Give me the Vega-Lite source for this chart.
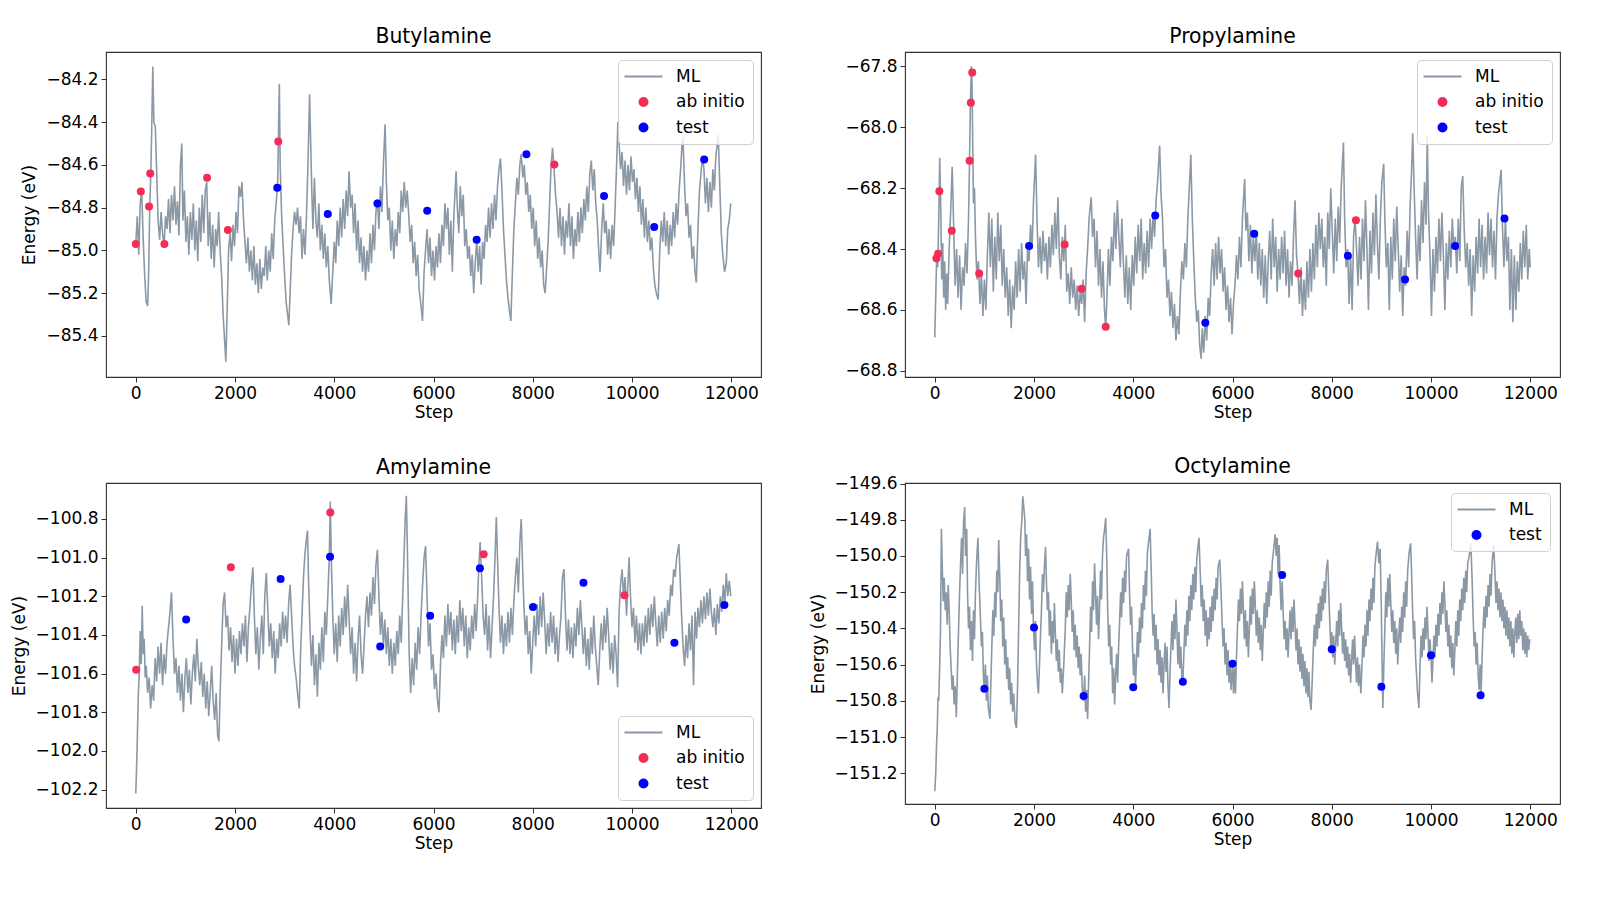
{
"$schema":"https://vega.github.io/schema/vega-lite/v6.json",
"background":"white",
"padding":{"left":9,"top":26,"right":5,"bottom":5},
"config":{
"view":{"stroke":"#333","strokeWidth":1.1},
"axis":{"grid":false,"domain":false,"tickColor":"#333","tickSize":5,"tickWidth":1,"labelFont":"DejaVu Sans","labelFontSize":17,"labelColor":"#000","labelPadding":3,"labelFlush":false,"labelOverlap":false,"titleFont":"DejaVu Sans","titleFontSize":17,"titleFontWeight":"normal","titleColor":"#000"},
"axisY":{"titlePadding":7},
"axisX":{"titlePadding":3},
"title":{"font":"DejaVu Sans","fontSize":20.4,"fontWeight":"normal","color":"#000","offset":5,"anchor":"middle","frame":"group"},
"legend":{"title":null,"offset":8,"fillColor":"rgba(255,255,255,0.8)","strokeColor":"#d0d0d0","strokeWidth":1,"cornerRadius":4,"padding":8,"labelFont":"DejaVu Sans","labelFontSize":17,"labelColor":"#000","labelOffset":24,"symbolSize":400,"symbolOffset":9,"rowPadding":7.5}
},
"datasets":{
"b":[{"s":0,"e":-84.97},{"s":30,"e":-84.84},{"s":60,"e":-85.02},{"s":90,"e":-84.78},{"s":120,"e":-84.72},{"s":150,"e":-84.95},{"s":180,"e":-85.12},{"s":210,"e":-85.24},{"s":240,"e":-85.26},{"s":260,"e":-85.1},{"s":280,"e":-84.82},{"s":300,"e":-84.66},{"s":320,"e":-84.45},{"s":343,"e":-84.14},{"s":365,"e":-84.4},{"s":393,"e":-84.42},{"s":420,"e":-84.62},{"s":450,"e":-84.86},{"s":480,"e":-84.95},{"s":510,"e":-84.82},{"s":540,"e":-84.92},{"s":570,"e":-84.98},{"s":600,"e":-84.84},{"s":630,"e":-84.9},{"s":660,"e":-84.76},{"s":690,"e":-84.92},{"s":720,"e":-84.74},{"s":750,"e":-84.86},{"s":780,"e":-84.7},{"s":810,"e":-84.88},{"s":840,"e":-84.77},{"s":870,"e":-84.93},{"s":900,"e":-84.6},{"s":928,"e":-84.5},{"s":950,"e":-84.86},{"s":980,"e":-84.72},{"s":1010,"e":-84.96},{"s":1040,"e":-84.84},{"s":1070,"e":-85.02},{"s":1100,"e":-84.82},{"s":1130,"e":-84.95},{"s":1160,"e":-84.78},{"s":1190,"e":-85.0},{"s":1220,"e":-84.86},{"s":1250,"e":-85.05},{"s":1280,"e":-84.8},{"s":1310,"e":-84.96},{"s":1340,"e":-84.74},{"s":1370,"e":-84.92},{"s":1400,"e":-84.72},{"s":1430,"e":-84.68},{"s":1460,"e":-84.98},{"s":1490,"e":-84.82},{"s":1520,"e":-85.04},{"s":1550,"e":-84.88},{"s":1580,"e":-85.08},{"s":1610,"e":-84.9},{"s":1640,"e":-84.98},{"s":1670,"e":-84.82},{"s":1700,"e":-85.0},{"s":1730,"e":-85.12},{"s":1760,"e":-85.3},{"s":1790,"e":-85.42},{"s":1815,"e":-85.52},{"s":1840,"e":-85.3},{"s":1870,"e":-85.0},{"s":1900,"e":-84.92},{"s":1930,"e":-85.05},{"s":1960,"e":-84.88},{"s":1990,"e":-84.98},{"s":2020,"e":-84.82},{"s":2050,"e":-84.92},{"s":2080,"e":-84.7},{"s":2110,"e":-84.75},{"s":2140,"e":-84.68},{"s":2170,"e":-84.85},{"s":2200,"e":-84.96},{"s":2230,"e":-85.06},{"s":2260,"e":-84.94},{"s":2290,"e":-85.1},{"s":2320,"e":-85.0},{"s":2350,"e":-85.14},{"s":2380,"e":-84.98},{"s":2410,"e":-85.16},{"s":2440,"e":-85.06},{"s":2470,"e":-85.2},{"s":2500,"e":-85.04},{"s":2530,"e":-85.18},{"s":2560,"e":-85.08},{"s":2590,"e":-85.12},{"s":2620,"e":-84.98},{"s":2650,"e":-85.14},{"s":2680,"e":-85.0},{"s":2710,"e":-85.1},{"s":2740,"e":-84.92},{"s":2770,"e":-85.04},{"s":2800,"e":-84.86},{"s":2830,"e":-84.78},{"s":2860,"e":-84.68},{"s":2880,"e":-84.4},{"s":2893,"e":-84.22},{"s":2910,"e":-84.6},{"s":2940,"e":-84.84},{"s":2970,"e":-84.98},{"s":3000,"e":-85.12},{"s":3030,"e":-85.24},{"s":3060,"e":-85.3},{"s":3085,"e":-85.35},{"s":3110,"e":-85.2},{"s":3140,"e":-85.02},{"s":3170,"e":-84.9},{"s":3200,"e":-84.82},{"s":3230,"e":-84.88},{"s":3260,"e":-84.8},{"s":3290,"e":-84.92},{"s":3320,"e":-84.84},{"s":3350,"e":-85.04},{"s":3380,"e":-84.9},{"s":3410,"e":-85.02},{"s":3440,"e":-84.84},{"s":3470,"e":-84.6},{"s":3490,"e":-84.4},{"s":3503,"e":-84.27},{"s":3520,"e":-84.45},{"s":3545,"e":-84.7},{"s":3570,"e":-84.9},{"s":3600,"e":-84.66},{"s":3630,"e":-84.86},{"s":3660,"e":-84.94},{"s":3690,"e":-84.78},{"s":3720,"e":-85.0},{"s":3750,"e":-84.88},{"s":3780,"e":-85.04},{"s":3810,"e":-84.92},{"s":3840,"e":-85.08},{"s":3870,"e":-84.98},{"s":3900,"e":-85.14},{"s":3938,"e":-85.25},{"s":3970,"e":-85.1},{"s":4000,"e":-84.96},{"s":4030,"e":-85.06},{"s":4060,"e":-84.86},{"s":4090,"e":-84.98},{"s":4120,"e":-84.8},{"s":4150,"e":-84.94},{"s":4180,"e":-84.76},{"s":4210,"e":-84.9},{"s":4240,"e":-84.72},{"s":4270,"e":-84.84},{"s":4298,"e":-84.63},{"s":4330,"e":-84.8},{"s":4360,"e":-84.74},{"s":4390,"e":-84.92},{"s":4420,"e":-84.78},{"s":4450,"e":-85.0},{"s":4480,"e":-84.86},{"s":4510,"e":-85.06},{"s":4540,"e":-84.94},{"s":4570,"e":-85.1},{"s":4600,"e":-84.98},{"s":4630,"e":-85.14},{"s":4660,"e":-85.0},{"s":4690,"e":-85.1},{"s":4720,"e":-84.92},{"s":4750,"e":-85.06},{"s":4780,"e":-84.88},{"s":4810,"e":-85.0},{"s":4840,"e":-84.82},{"s":4870,"e":-84.76},{"s":4900,"e":-84.9},{"s":4930,"e":-84.7},{"s":4960,"e":-84.82},{"s":4990,"e":-84.6},{"s":5025,"e":-84.41},{"s":5050,"e":-84.68},{"s":5080,"e":-84.86},{"s":5110,"e":-84.8},{"s":5140,"e":-85.0},{"s":5170,"e":-84.86},{"s":5200,"e":-85.04},{"s":5230,"e":-84.9},{"s":5260,"e":-84.98},{"s":5290,"e":-84.82},{"s":5320,"e":-84.92},{"s":5350,"e":-84.72},{"s":5380,"e":-84.82},{"s":5410,"e":-84.68},{"s":5440,"e":-84.8},{"s":5470,"e":-84.72},{"s":5500,"e":-84.83},{"s":5530,"e":-84.96},{"s":5560,"e":-84.88},{"s":5590,"e":-85.06},{"s":5620,"e":-84.96},{"s":5650,"e":-85.12},{"s":5680,"e":-85.02},{"s":5710,"e":-85.18},{"s":5740,"e":-85.24},{"s":5778,"e":-85.33},{"s":5810,"e":-85.1},{"s":5840,"e":-85.0},{"s":5870,"e":-84.9},{"s":5900,"e":-85.06},{"s":5930,"e":-84.94},{"s":5960,"e":-85.12},{"s":5990,"e":-85.0},{"s":6020,"e":-85.14},{"s":6050,"e":-84.98},{"s":6080,"e":-85.08},{"s":6110,"e":-84.92},{"s":6140,"e":-85.06},{"s":6170,"e":-84.88},{"s":6200,"e":-84.98},{"s":6230,"e":-84.78},{"s":6260,"e":-84.9},{"s":6290,"e":-84.8},{"s":6320,"e":-85.02},{"s":6350,"e":-84.86},{"s":6380,"e":-85.1},{"s":6410,"e":-84.84},{"s":6440,"e":-84.7},{"s":6455,"e":-84.63},{"s":6480,"e":-84.8},{"s":6510,"e":-84.92},{"s":6540,"e":-84.7},{"s":6570,"e":-84.84},{"s":6600,"e":-84.74},{"s":6630,"e":-84.98},{"s":6660,"e":-84.9},{"s":6690,"e":-85.04},{"s":6720,"e":-84.98},{"s":6750,"e":-85.12},{"s":6780,"e":-85.02},{"s":6810,"e":-85.2},{"s":6840,"e":-85.06},{"s":6873,"e":-84.95},{"s":6900,"e":-85.1},{"s":6930,"e":-84.98},{"s":6960,"e":-85.16},{"s":6990,"e":-84.96},{"s":7020,"e":-85.04},{"s":7050,"e":-84.88},{"s":7080,"e":-84.96},{"s":7110,"e":-84.8},{"s":7140,"e":-84.94},{"s":7170,"e":-84.78},{"s":7200,"e":-84.9},{"s":7230,"e":-84.74},{"s":7260,"e":-84.86},{"s":7290,"e":-84.7},{"s":7320,"e":-84.62},{"s":7350,"e":-84.57},{"s":7380,"e":-84.72},{"s":7410,"e":-84.9},{"s":7440,"e":-85.02},{"s":7470,"e":-85.14},{"s":7500,"e":-85.22},{"s":7530,"e":-85.28},{"s":7559,"e":-85.33},{"s":7590,"e":-85.1},{"s":7620,"e":-84.9},{"s":7650,"e":-84.78},{"s":7680,"e":-84.66},{"s":7710,"e":-84.74},{"s":7740,"e":-84.6},{"s":7768,"e":-84.55},{"s":7800,"e":-84.66},{"s":7830,"e":-84.6},{"s":7860,"e":-84.74},{"s":7890,"e":-84.68},{"s":7920,"e":-84.82},{"s":7950,"e":-84.74},{"s":7980,"e":-84.9},{"s":8010,"e":-84.8},{"s":8040,"e":-84.98},{"s":8070,"e":-84.86},{"s":8100,"e":-85.04},{"s":8130,"e":-84.94},{"s":8160,"e":-85.08},{"s":8190,"e":-85.0},{"s":8220,"e":-85.16},{"s":8250,"e":-85.2},{"s":8280,"e":-85.08},{"s":8310,"e":-84.96},{"s":8340,"e":-84.78},{"s":8370,"e":-84.6},{"s":8400,"e":-84.52},{"s":8430,"e":-84.62},{"s":8460,"e":-84.74},{"s":8490,"e":-84.82},{"s":8520,"e":-84.94},{"s":8550,"e":-84.8},{"s":8580,"e":-84.98},{"s":8610,"e":-84.84},{"s":8640,"e":-85.02},{"s":8670,"e":-84.86},{"s":8700,"e":-84.94},{"s":8730,"e":-84.78},{"s":8760,"e":-84.98},{"s":8790,"e":-84.84},{"s":8820,"e":-85.04},{"s":8850,"e":-84.9},{"s":8880,"e":-84.98},{"s":8910,"e":-84.82},{"s":8940,"e":-84.96},{"s":8970,"e":-84.8},{"s":9000,"e":-84.92},{"s":9030,"e":-84.76},{"s":9060,"e":-84.86},{"s":9090,"e":-84.7},{"s":9120,"e":-84.82},{"s":9150,"e":-84.64},{"s":9180,"e":-84.58},{"s":9210,"e":-84.72},{"s":9240,"e":-84.62},{"s":9270,"e":-84.78},{"s":9300,"e":-84.86},{"s":9330,"e":-85.0},{"s":9356,"e":-85.1},{"s":9390,"e":-84.9},{"s":9420,"e":-84.78},{"s":9450,"e":-84.92},{"s":9480,"e":-84.86},{"s":9510,"e":-85.02},{"s":9540,"e":-84.9},{"s":9570,"e":-85.04},{"s":9600,"e":-84.88},{"s":9630,"e":-84.98},{"s":9660,"e":-84.8},{"s":9690,"e":-84.6},{"s":9716,"e":-84.4},{"s":9740,"e":-84.5},{"s":9770,"e":-84.62},{"s":9800,"e":-84.54},{"s":9830,"e":-84.7},{"s":9860,"e":-84.58},{"s":9890,"e":-84.74},{"s":9920,"e":-84.6},{"s":9950,"e":-84.72},{"s":9980,"e":-84.56},{"s":10010,"e":-84.68},{"s":10040,"e":-84.62},{"s":10070,"e":-84.76},{"s":10100,"e":-84.66},{"s":10130,"e":-84.82},{"s":10160,"e":-84.7},{"s":10190,"e":-84.88},{"s":10220,"e":-84.76},{"s":10250,"e":-84.94},{"s":10280,"e":-84.8},{"s":10310,"e":-84.96},{"s":10340,"e":-84.86},{"s":10370,"e":-85.0},{"s":10400,"e":-84.94},{"s":10430,"e":-85.08},{"s":10460,"e":-85.16},{"s":10490,"e":-85.2},{"s":10527,"e":-85.23},{"s":10560,"e":-85.0},{"s":10590,"e":-84.86},{"s":10620,"e":-84.96},{"s":10650,"e":-84.82},{"s":10680,"e":-84.98},{"s":10710,"e":-84.86},{"s":10740,"e":-85.02},{"s":10770,"e":-84.88},{"s":10800,"e":-84.98},{"s":10830,"e":-84.82},{"s":10860,"e":-84.94},{"s":10890,"e":-84.78},{"s":10920,"e":-84.88},{"s":10950,"e":-84.72},{"s":10980,"e":-84.62},{"s":11010,"e":-84.5},{"s":11028,"e":-84.47},{"s":11060,"e":-84.7},{"s":11090,"e":-84.84},{"s":11120,"e":-84.78},{"s":11150,"e":-84.94},{"s":11180,"e":-84.88},{"s":11210,"e":-85.04},{"s":11240,"e":-84.98},{"s":11270,"e":-85.1},{"s":11296,"e":-85.15},{"s":11330,"e":-84.9},{"s":11360,"e":-84.72},{"s":11390,"e":-84.64},{"s":11420,"e":-84.56},{"s":11450,"e":-84.62},{"s":11480,"e":-84.78},{"s":11510,"e":-84.66},{"s":11540,"e":-84.82},{"s":11570,"e":-84.68},{"s":11600,"e":-84.8},{"s":11630,"e":-84.62},{"s":11660,"e":-84.72},{"s":11690,"e":-84.56},{"s":11720,"e":-84.5},{"s":11739,"e":-84.46},{"s":11770,"e":-84.7},{"s":11800,"e":-84.92},{"s":11830,"e":-85.02},{"s":11865,"e":-85.1},{"s":11900,"e":-85.06},{"s":11930,"e":-84.9},{"s":11960,"e":-84.86},{"s":11990,"e":-84.78}],
"p":[{"s":0,"e":-68.69},{"s":20,"e":-68.55},{"s":40,"e":-68.42},{"s":60,"e":-68.46},{"s":80,"e":-68.3},{"s":100,"e":-68.1},{"s":120,"e":-68.26},{"s":140,"e":-68.5},{"s":160,"e":-68.38},{"s":180,"e":-68.56},{"s":200,"e":-68.44},{"s":220,"e":-68.6},{"s":240,"e":-68.48},{"s":260,"e":-68.58},{"s":290,"e":-68.4},{"s":320,"e":-68.28},{"s":351,"e":-68.13},{"s":380,"e":-68.32},{"s":410,"e":-68.52},{"s":440,"e":-68.4},{"s":470,"e":-68.56},{"s":500,"e":-68.42},{"s":530,"e":-68.6},{"s":560,"e":-68.46},{"s":590,"e":-68.52},{"s":620,"e":-68.38},{"s":650,"e":-68.48},{"s":680,"e":-68.3},{"s":700,"e":-68.12},{"s":715,"e":-67.95},{"s":736,"e":-67.8},{"s":750,"e":-67.85},{"s":765,"e":-68.05},{"s":780,"e":-68.25},{"s":800,"e":-68.2},{"s":820,"e":-68.36},{"s":850,"e":-68.5},{"s":880,"e":-68.44},{"s":910,"e":-68.58},{"s":940,"e":-68.48},{"s":970,"e":-68.62},{"s":1000,"e":-68.5},{"s":1030,"e":-68.6},{"s":1060,"e":-68.42},{"s":1090,"e":-68.28},{"s":1120,"e":-68.46},{"s":1150,"e":-68.3},{"s":1180,"e":-68.54},{"s":1210,"e":-68.36},{"s":1240,"e":-68.5},{"s":1270,"e":-68.28},{"s":1300,"e":-68.44},{"s":1330,"e":-68.32},{"s":1360,"e":-68.52},{"s":1390,"e":-68.4},{"s":1420,"e":-68.56},{"s":1450,"e":-68.46},{"s":1480,"e":-68.62},{"s":1510,"e":-68.5},{"s":1540,"e":-68.66},{"s":1570,"e":-68.52},{"s":1600,"e":-68.6},{"s":1630,"e":-68.44},{"s":1660,"e":-68.56},{"s":1690,"e":-68.4},{"s":1720,"e":-68.54},{"s":1750,"e":-68.38},{"s":1780,"e":-68.5},{"s":1810,"e":-68.44},{"s":1840,"e":-68.58},{"s":1870,"e":-68.4},{"s":1900,"e":-68.44},{"s":1930,"e":-68.32},{"s":1960,"e":-68.4},{"s":1990,"e":-68.24},{"s":2032,"e":-68.09},{"s":2060,"e":-68.3},{"s":2090,"e":-68.46},{"s":2120,"e":-68.36},{"s":2150,"e":-68.48},{"s":2180,"e":-68.34},{"s":2210,"e":-68.44},{"s":2240,"e":-68.38},{"s":2270,"e":-68.5},{"s":2300,"e":-68.36},{"s":2330,"e":-68.46},{"s":2360,"e":-68.32},{"s":2390,"e":-68.42},{"s":2420,"e":-68.28},{"s":2450,"e":-68.4},{"s":2483,"e":-68.23},{"s":2510,"e":-68.42},{"s":2540,"e":-68.5},{"s":2570,"e":-68.36},{"s":2600,"e":-68.44},{"s":2630,"e":-68.32},{"s":2660,"e":-68.54},{"s":2690,"e":-68.48},{"s":2720,"e":-68.58},{"s":2750,"e":-68.46},{"s":2780,"e":-68.56},{"s":2810,"e":-68.5},{"s":2840,"e":-68.6},{"s":2870,"e":-68.52},{"s":2900,"e":-68.62},{"s":2930,"e":-68.54},{"s":2960,"e":-68.58},{"s":2990,"e":-68.5},{"s":3020,"e":-68.64},{"s":3050,"e":-68.48},{"s":3080,"e":-68.4},{"s":3110,"e":-68.3},{"s":3152,"e":-68.23},{"s":3180,"e":-68.36},{"s":3210,"e":-68.3},{"s":3240,"e":-68.46},{"s":3270,"e":-68.34},{"s":3300,"e":-68.52},{"s":3330,"e":-68.4},{"s":3360,"e":-68.56},{"s":3390,"e":-68.44},{"s":3420,"e":-68.6},{"s":3445,"e":-68.66},{"s":3470,"e":-68.56},{"s":3500,"e":-68.4},{"s":3530,"e":-68.52},{"s":3560,"e":-68.36},{"s":3590,"e":-68.44},{"s":3620,"e":-68.28},{"s":3650,"e":-68.4},{"s":3680,"e":-68.24},{"s":3710,"e":-68.36},{"s":3740,"e":-68.46},{"s":3770,"e":-68.3},{"s":3800,"e":-68.44},{"s":3830,"e":-68.56},{"s":3860,"e":-68.42},{"s":3890,"e":-68.58},{"s":3920,"e":-68.46},{"s":3950,"e":-68.6},{"s":3980,"e":-68.42},{"s":4010,"e":-68.52},{"s":4040,"e":-68.36},{"s":4070,"e":-68.48},{"s":4100,"e":-68.32},{"s":4130,"e":-68.44},{"s":4160,"e":-68.3},{"s":4190,"e":-68.5},{"s":4220,"e":-68.38},{"s":4250,"e":-68.48},{"s":4280,"e":-68.34},{"s":4310,"e":-68.46},{"s":4340,"e":-68.3},{"s":4370,"e":-68.4},{"s":4400,"e":-68.28},{"s":4430,"e":-68.36},{"s":4460,"e":-68.24},{"s":4490,"e":-68.18},{"s":4532,"e":-68.06},{"s":4560,"e":-68.22},{"s":4590,"e":-68.3},{"s":4620,"e":-68.46},{"s":4650,"e":-68.4},{"s":4680,"e":-68.56},{"s":4710,"e":-68.5},{"s":4740,"e":-68.62},{"s":4770,"e":-68.54},{"s":4800,"e":-68.66},{"s":4830,"e":-68.58},{"s":4860,"e":-68.7},{"s":4890,"e":-68.62},{"s":4920,"e":-68.68},{"s":4950,"e":-68.54},{"s":4980,"e":-68.44},{"s":5010,"e":-68.5},{"s":5040,"e":-68.38},{"s":5070,"e":-68.46},{"s":5100,"e":-68.3},{"s":5130,"e":-68.2},{"s":5160,"e":-68.09},{"s":5190,"e":-68.3},{"s":5220,"e":-68.44},{"s":5250,"e":-68.56},{"s":5280,"e":-68.64},{"s":5310,"e":-68.6},{"s":5340,"e":-68.72},{"s":5368,"e":-68.76},{"s":5390,"e":-68.66},{"s":5420,"e":-68.74},{"s":5450,"e":-68.62},{"s":5480,"e":-68.7},{"s":5510,"e":-68.56},{"s":5540,"e":-68.62},{"s":5570,"e":-68.48},{"s":5600,"e":-68.4},{"s":5630,"e":-68.52},{"s":5660,"e":-68.38},{"s":5690,"e":-68.5},{"s":5720,"e":-68.36},{"s":5750,"e":-68.48},{"s":5780,"e":-68.4},{"s":5810,"e":-68.54},{"s":5840,"e":-68.46},{"s":5870,"e":-68.6},{"s":5900,"e":-68.52},{"s":5930,"e":-68.64},{"s":5960,"e":-68.56},{"s":5990,"e":-68.68},{"s":6020,"e":-68.58},{"s":6050,"e":-68.52},{"s":6080,"e":-68.42},{"s":6110,"e":-68.5},{"s":6140,"e":-68.36},{"s":6170,"e":-68.46},{"s":6200,"e":-68.3},{"s":6245,"e":-68.17},{"s":6270,"e":-68.34},{"s":6300,"e":-68.28},{"s":6330,"e":-68.44},{"s":6360,"e":-68.32},{"s":6390,"e":-68.48},{"s":6420,"e":-68.36},{"s":6450,"e":-68.44},{"s":6480,"e":-68.34},{"s":6510,"e":-68.5},{"s":6540,"e":-68.38},{"s":6570,"e":-68.52},{"s":6600,"e":-68.4},{"s":6630,"e":-68.56},{"s":6660,"e":-68.42},{"s":6690,"e":-68.58},{"s":6720,"e":-68.44},{"s":6750,"e":-68.34},{"s":6780,"e":-68.5},{"s":6810,"e":-68.3},{"s":6840,"e":-68.46},{"s":6870,"e":-68.36},{"s":6900,"e":-68.54},{"s":6930,"e":-68.4},{"s":6960,"e":-68.5},{"s":6990,"e":-68.36},{"s":7020,"e":-68.48},{"s":7050,"e":-68.34},{"s":7080,"e":-68.52},{"s":7110,"e":-68.4},{"s":7140,"e":-68.56},{"s":7170,"e":-68.44},{"s":7200,"e":-68.52},{"s":7230,"e":-68.36},{"s":7260,"e":-68.24},{"s":7290,"e":-68.42},{"s":7320,"e":-68.48},{"s":7350,"e":-68.58},{"s":7380,"e":-68.46},{"s":7410,"e":-68.62},{"s":7440,"e":-68.5},{"s":7470,"e":-68.6},{"s":7500,"e":-68.44},{"s":7530,"e":-68.56},{"s":7560,"e":-68.4},{"s":7590,"e":-68.54},{"s":7620,"e":-68.38},{"s":7650,"e":-68.5},{"s":7680,"e":-68.32},{"s":7710,"e":-68.46},{"s":7740,"e":-68.28},{"s":7770,"e":-68.4},{"s":7800,"e":-68.3},{"s":7830,"e":-68.46},{"s":7860,"e":-68.36},{"s":7890,"e":-68.52},{"s":7920,"e":-68.28},{"s":7950,"e":-68.4},{"s":7980,"e":-68.2},{"s":8010,"e":-68.34},{"s":8040,"e":-68.48},{"s":8070,"e":-68.3},{"s":8100,"e":-68.44},{"s":8130,"e":-68.26},{"s":8160,"e":-68.38},{"s":8190,"e":-68.2},{"s":8236,"e":-68.05},{"s":8260,"e":-68.3},{"s":8290,"e":-68.46},{"s":8320,"e":-68.4},{"s":8350,"e":-68.58},{"s":8380,"e":-68.42},{"s":8410,"e":-68.6},{"s":8440,"e":-68.36},{"s":8470,"e":-68.3},{"s":8500,"e":-68.4},{"s":8530,"e":-68.52},{"s":8560,"e":-68.36},{"s":8590,"e":-68.5},{"s":8620,"e":-68.3},{"s":8650,"e":-68.44},{"s":8680,"e":-68.24},{"s":8710,"e":-68.4},{"s":8740,"e":-68.6},{"s":8770,"e":-68.34},{"s":8800,"e":-68.48},{"s":8830,"e":-68.28},{"s":8860,"e":-68.42},{"s":8890,"e":-68.22},{"s":8920,"e":-68.38},{"s":8950,"e":-68.5},{"s":8980,"e":-68.3},{"s":9010,"e":-68.18},{"s":9047,"e":-68.12},{"s":9070,"e":-68.3},{"s":9100,"e":-68.46},{"s":9130,"e":-68.38},{"s":9160,"e":-68.6},{"s":9190,"e":-68.36},{"s":9220,"e":-68.5},{"s":9250,"e":-68.3},{"s":9280,"e":-68.44},{"s":9310,"e":-68.26},{"s":9340,"e":-68.4},{"s":9370,"e":-68.54},{"s":9400,"e":-68.42},{"s":9430,"e":-68.62},{"s":9460,"e":-68.46},{"s":9490,"e":-68.52},{"s":9520,"e":-68.34},{"s":9550,"e":-68.46},{"s":9580,"e":-68.26},{"s":9610,"e":-68.14},{"s":9632,"e":-68.02},{"s":9660,"e":-68.2},{"s":9690,"e":-68.36},{"s":9720,"e":-68.5},{"s":9750,"e":-68.32},{"s":9780,"e":-68.44},{"s":9810,"e":-68.24},{"s":9840,"e":-68.38},{"s":9870,"e":-68.18},{"s":9900,"e":-68.32},{"s":9925,"e":-68.03},{"s":9950,"e":-68.28},{"s":9980,"e":-68.42},{"s":10010,"e":-68.62},{"s":10040,"e":-68.4},{"s":10070,"e":-68.54},{"s":10100,"e":-68.36},{"s":10130,"e":-68.48},{"s":10160,"e":-68.3},{"s":10190,"e":-68.44},{"s":10220,"e":-68.28},{"s":10250,"e":-68.42},{"s":10280,"e":-68.6},{"s":10310,"e":-68.38},{"s":10340,"e":-68.5},{"s":10370,"e":-68.34},{"s":10400,"e":-68.46},{"s":10430,"e":-68.3},{"s":10460,"e":-68.4},{"s":10490,"e":-68.36},{"s":10520,"e":-68.48},{"s":10550,"e":-68.3},{"s":10580,"e":-68.44},{"s":10610,"e":-68.2},{"s":10640,"e":-68.16},{"s":10670,"e":-68.34},{"s":10700,"e":-68.46},{"s":10730,"e":-68.38},{"s":10760,"e":-68.52},{"s":10790,"e":-68.4},{"s":10820,"e":-68.62},{"s":10850,"e":-68.42},{"s":10880,"e":-68.54},{"s":10910,"e":-68.36},{"s":10940,"e":-68.48},{"s":10970,"e":-68.3},{"s":11000,"e":-68.46},{"s":11030,"e":-68.32},{"s":11060,"e":-68.5},{"s":11090,"e":-68.36},{"s":11120,"e":-68.48},{"s":11150,"e":-68.28},{"s":11180,"e":-68.42},{"s":11210,"e":-68.3},{"s":11240,"e":-68.46},{"s":11270,"e":-68.34},{"s":11300,"e":-68.5},{"s":11330,"e":-68.3},{"s":11360,"e":-68.22},{"s":11413,"e":-68.14},{"s":11440,"e":-68.32},{"s":11470,"e":-68.46},{"s":11500,"e":-68.3},{"s":11530,"e":-68.44},{"s":11560,"e":-68.36},{"s":11590,"e":-68.6},{"s":11620,"e":-68.4},{"s":11650,"e":-68.64},{"s":11680,"e":-68.42},{"s":11710,"e":-68.6},{"s":11740,"e":-68.44},{"s":11770,"e":-68.54},{"s":11800,"e":-68.38},{"s":11830,"e":-68.5},{"s":11860,"e":-68.34},{"s":11890,"e":-68.46},{"s":11920,"e":-68.32},{"s":11950,"e":-68.5},{"s":11980,"e":-68.4},{"s":12000,"e":-68.46}],
"a":[{"s":0,"e":-102.22},{"s":15,"e":-102.1},{"s":30,"e":-101.95},{"s":50,"e":-101.72},{"s":70,"e":-101.6},{"s":90,"e":-101.38},{"s":110,"e":-101.55},{"s":130,"e":-101.25},{"s":150,"e":-101.5},{"s":170,"e":-101.42},{"s":190,"e":-101.62},{"s":210,"e":-101.56},{"s":240,"e":-101.7},{"s":270,"e":-101.62},{"s":300,"e":-101.78},{"s":330,"e":-101.66},{"s":360,"e":-101.74},{"s":390,"e":-101.52},{"s":420,"e":-101.64},{"s":450,"e":-101.46},{"s":480,"e":-101.6},{"s":510,"e":-101.44},{"s":540,"e":-101.66},{"s":570,"e":-101.5},{"s":600,"e":-101.6},{"s":630,"e":-101.44},{"s":660,"e":-101.36},{"s":690,"e":-101.28},{"s":720,"e":-101.18},{"s":750,"e":-101.42},{"s":780,"e":-101.6},{"s":810,"e":-101.52},{"s":840,"e":-101.7},{"s":870,"e":-101.56},{"s":900,"e":-101.74},{"s":930,"e":-101.6},{"s":960,"e":-101.8},{"s":990,"e":-101.62},{"s":1020,"e":-101.52},{"s":1050,"e":-101.7},{"s":1080,"e":-101.58},{"s":1110,"e":-101.76},{"s":1140,"e":-101.6},{"s":1170,"e":-101.5},{"s":1200,"e":-101.64},{"s":1230,"e":-101.42},{"s":1260,"e":-101.56},{"s":1290,"e":-101.66},{"s":1320,"e":-101.54},{"s":1350,"e":-101.72},{"s":1380,"e":-101.6},{"s":1410,"e":-101.78},{"s":1440,"e":-101.64},{"s":1470,"e":-101.82},{"s":1500,"e":-101.7},{"s":1530,"e":-101.56},{"s":1560,"e":-101.74},{"s":1590,"e":-101.84},{"s":1620,"e":-101.7},{"s":1650,"e":-101.92},{"s":1675,"e":-101.95},{"s":1700,"e":-101.7},{"s":1730,"e":-101.46},{"s":1760,"e":-101.24},{"s":1790,"e":-101.18},{"s":1820,"e":-101.36},{"s":1850,"e":-101.3},{"s":1880,"e":-101.48},{"s":1910,"e":-101.36},{"s":1940,"e":-101.54},{"s":1970,"e":-101.4},{"s":2000,"e":-101.6},{"s":2030,"e":-101.42},{"s":2060,"e":-101.56},{"s":2090,"e":-101.38},{"s":2120,"e":-101.5},{"s":2150,"e":-101.34},{"s":2180,"e":-101.46},{"s":2210,"e":-101.3},{"s":2240,"e":-101.54},{"s":2270,"e":-101.36},{"s":2300,"e":-101.26},{"s":2330,"e":-101.14},{"s":2360,"e":-101.05},{"s":2390,"e":-101.3},{"s":2420,"e":-101.5},{"s":2450,"e":-101.36},{"s":2480,"e":-101.58},{"s":2510,"e":-101.42},{"s":2540,"e":-101.3},{"s":2570,"e":-101.5},{"s":2600,"e":-101.2},{"s":2630,"e":-101.08},{"s":2660,"e":-101.26},{"s":2690,"e":-101.46},{"s":2720,"e":-101.34},{"s":2750,"e":-101.52},{"s":2780,"e":-101.38},{"s":2810,"e":-101.6},{"s":2840,"e":-101.42},{"s":2870,"e":-101.52},{"s":2900,"e":-101.34},{"s":2930,"e":-101.46},{"s":2960,"e":-101.28},{"s":2990,"e":-101.42},{"s":3020,"e":-101.3},{"s":3050,"e":-101.44},{"s":3080,"e":-101.24},{"s":3110,"e":-101.14},{"s":3140,"e":-101.3},{"s":3170,"e":-101.46},{"s":3200,"e":-101.56},{"s":3230,"e":-101.62},{"s":3260,"e":-101.7},{"s":3294,"e":-101.78},{"s":3320,"e":-101.5},{"s":3350,"e":-101.3},{"s":3380,"e":-101.1},{"s":3410,"e":-100.98},{"s":3440,"e":-100.9},{"s":3461,"e":-100.86},{"s":3480,"e":-101.1},{"s":3510,"e":-101.36},{"s":3540,"e":-101.56},{"s":3570,"e":-101.4},{"s":3600,"e":-101.66},{"s":3630,"e":-101.5},{"s":3660,"e":-101.72},{"s":3690,"e":-101.44},{"s":3720,"e":-101.58},{"s":3750,"e":-101.36},{"s":3780,"e":-101.54},{"s":3810,"e":-101.28},{"s":3840,"e":-101.4},{"s":3870,"e":-101.2},{"s":3900,"e":-101.0},{"s":3920,"e":-100.71},{"s":3940,"e":-101.0},{"s":3970,"e":-101.3},{"s":4000,"e":-101.5},{"s":4030,"e":-101.34},{"s":4060,"e":-101.54},{"s":4090,"e":-101.3},{"s":4120,"e":-101.46},{"s":4150,"e":-101.26},{"s":4180,"e":-101.4},{"s":4210,"e":-101.2},{"s":4240,"e":-101.36},{"s":4270,"e":-101.14},{"s":4300,"e":-101.32},{"s":4330,"e":-101.5},{"s":4360,"e":-101.36},{"s":4390,"e":-101.6},{"s":4420,"e":-101.44},{"s":4450,"e":-101.64},{"s":4480,"e":-101.42},{"s":4510,"e":-101.3},{"s":4540,"e":-101.5},{"s":4570,"e":-101.6},{"s":4600,"e":-101.46},{"s":4630,"e":-101.3},{"s":4660,"e":-101.2},{"s":4690,"e":-101.36},{"s":4720,"e":-101.18},{"s":4750,"e":-101.3},{"s":4780,"e":-101.1},{"s":4810,"e":-101.24},{"s":4840,"e":-101.04},{"s":4870,"e":-100.96},{"s":4900,"e":-101.2},{"s":4930,"e":-101.4},{"s":4960,"e":-101.28},{"s":4990,"e":-101.46},{"s":5020,"e":-101.32},{"s":5050,"e":-101.5},{"s":5080,"e":-101.36},{"s":5110,"e":-101.56},{"s":5140,"e":-101.42},{"s":5170,"e":-101.6},{"s":5200,"e":-101.44},{"s":5230,"e":-101.56},{"s":5260,"e":-101.38},{"s":5290,"e":-101.5},{"s":5320,"e":-101.3},{"s":5350,"e":-101.44},{"s":5380,"e":-101.2},{"s":5410,"e":-100.96},{"s":5430,"e":-100.8},{"s":5452,"e":-100.68},{"s":5470,"e":-100.9},{"s":5490,"e":-101.2},{"s":5510,"e":-101.5},{"s":5540,"e":-101.7},{"s":5570,"e":-101.52},{"s":5600,"e":-101.66},{"s":5630,"e":-101.44},{"s":5660,"e":-101.58},{"s":5690,"e":-101.36},{"s":5720,"e":-101.5},{"s":5750,"e":-101.3},{"s":5780,"e":-101.14},{"s":5810,"e":-101.0},{"s":5840,"e":-100.94},{"s":5870,"e":-101.2},{"s":5900,"e":-101.46},{"s":5930,"e":-101.34},{"s":5960,"e":-101.58},{"s":5990,"e":-101.5},{"s":6020,"e":-101.68},{"s":6050,"e":-101.6},{"s":6080,"e":-101.74},{"s":6110,"e":-101.8},{"s":6140,"e":-101.56},{"s":6170,"e":-101.4},{"s":6200,"e":-101.52},{"s":6230,"e":-101.3},{"s":6260,"e":-101.46},{"s":6290,"e":-101.24},{"s":6320,"e":-101.4},{"s":6350,"e":-101.28},{"s":6380,"e":-101.48},{"s":6410,"e":-101.32},{"s":6440,"e":-101.5},{"s":6470,"e":-101.3},{"s":6500,"e":-101.44},{"s":6530,"e":-101.22},{"s":6560,"e":-101.38},{"s":6590,"e":-101.26},{"s":6620,"e":-101.46},{"s":6650,"e":-101.3},{"s":6680,"e":-101.52},{"s":6710,"e":-101.36},{"s":6740,"e":-101.48},{"s":6770,"e":-101.3},{"s":6800,"e":-101.42},{"s":6830,"e":-101.24},{"s":6860,"e":-101.38},{"s":6890,"e":-101.2},{"s":6915,"e":-101.04},{"s":6940,"e":-100.92},{"s":6970,"e":-101.1},{"s":7000,"e":-101.3},{"s":7030,"e":-101.4},{"s":7060,"e":-101.24},{"s":7090,"e":-101.48},{"s":7120,"e":-101.3},{"s":7150,"e":-101.52},{"s":7180,"e":-101.36},{"s":7210,"e":-101.2},{"s":7240,"e":-101.0},{"s":7266,"e":-100.79},{"s":7290,"e":-101.0},{"s":7320,"e":-101.26},{"s":7350,"e":-101.44},{"s":7380,"e":-101.3},{"s":7410,"e":-101.5},{"s":7440,"e":-101.34},{"s":7470,"e":-101.46},{"s":7500,"e":-101.28},{"s":7530,"e":-101.44},{"s":7560,"e":-101.26},{"s":7590,"e":-101.4},{"s":7620,"e":-101.22},{"s":7650,"e":-101.1},{"s":7680,"e":-101.0},{"s":7710,"e":-101.18},{"s":7740,"e":-100.92},{"s":7768,"e":-100.8},{"s":7790,"e":-101.0},{"s":7820,"e":-101.24},{"s":7850,"e":-101.4},{"s":7880,"e":-101.3},{"s":7910,"e":-101.5},{"s":7940,"e":-101.38},{"s":7970,"e":-101.6},{"s":8000,"e":-101.44},{"s":8030,"e":-101.3},{"s":8060,"e":-101.46},{"s":8090,"e":-101.24},{"s":8120,"e":-101.4},{"s":8150,"e":-101.2},{"s":8180,"e":-101.36},{"s":8210,"e":-101.18},{"s":8240,"e":-101.32},{"s":8270,"e":-101.5},{"s":8300,"e":-101.34},{"s":8330,"e":-101.46},{"s":8360,"e":-101.28},{"s":8390,"e":-101.44},{"s":8420,"e":-101.3},{"s":8450,"e":-101.5},{"s":8480,"e":-101.36},{"s":8510,"e":-101.54},{"s":8540,"e":-101.4},{"s":8570,"e":-101.3},{"s":8600,"e":-101.1},{"s":8630,"e":-101.06},{"s":8660,"e":-101.3},{"s":8690,"e":-101.48},{"s":8720,"e":-101.32},{"s":8750,"e":-101.5},{"s":8780,"e":-101.36},{"s":8810,"e":-101.52},{"s":8840,"e":-101.34},{"s":8870,"e":-101.46},{"s":8900,"e":-101.26},{"s":8930,"e":-101.4},{"s":8960,"e":-101.22},{"s":8990,"e":-101.36},{"s":9020,"e":-101.5},{"s":9050,"e":-101.36},{"s":9080,"e":-101.56},{"s":9110,"e":-101.42},{"s":9140,"e":-101.58},{"s":9170,"e":-101.36},{"s":9200,"e":-101.5},{"s":9230,"e":-101.3},{"s":9260,"e":-101.46},{"s":9290,"e":-101.56},{"s":9320,"e":-101.66},{"s":9350,"e":-101.48},{"s":9380,"e":-101.34},{"s":9410,"e":-101.48},{"s":9440,"e":-101.3},{"s":9470,"e":-101.44},{"s":9500,"e":-101.26},{"s":9530,"e":-101.4},{"s":9560,"e":-101.58},{"s":9590,"e":-101.44},{"s":9620,"e":-101.6},{"s":9650,"e":-101.4},{"s":9680,"e":-101.5},{"s":9710,"e":-101.67},{"s":9740,"e":-101.28},{"s":9770,"e":-101.14},{"s":9800,"e":-101.06},{"s":9830,"e":-101.2},{"s":9860,"e":-101.1},{"s":9890,"e":-101.3},{"s":9920,"e":-101.12},{"s":9942,"e":-101.0},{"s":9970,"e":-101.2},{"s":10000,"e":-101.36},{"s":10030,"e":-101.26},{"s":10060,"e":-101.44},{"s":10090,"e":-101.3},{"s":10120,"e":-101.48},{"s":10150,"e":-101.34},{"s":10180,"e":-101.5},{"s":10210,"e":-101.34},{"s":10240,"e":-101.46},{"s":10270,"e":-101.3},{"s":10300,"e":-101.44},{"s":10330,"e":-101.26},{"s":10360,"e":-101.4},{"s":10390,"e":-101.24},{"s":10420,"e":-101.36},{"s":10450,"e":-101.2},{"s":10480,"e":-101.34},{"s":10510,"e":-101.46},{"s":10540,"e":-101.3},{"s":10570,"e":-101.44},{"s":10600,"e":-101.28},{"s":10630,"e":-101.42},{"s":10660,"e":-101.26},{"s":10690,"e":-101.38},{"s":10720,"e":-101.22},{"s":10750,"e":-101.3},{"s":10780,"e":-101.14},{"s":10810,"e":-101.2},{"s":10840,"e":-101.06},{"s":10870,"e":-101.1},{"s":10900,"e":-101.0},{"s":10945,"e":-100.93},{"s":10970,"e":-101.1},{"s":11000,"e":-101.3},{"s":11030,"e":-101.46},{"s":11060,"e":-101.56},{"s":11090,"e":-101.4},{"s":11120,"e":-101.52},{"s":11150,"e":-101.34},{"s":11180,"e":-101.48},{"s":11210,"e":-101.3},{"s":11240,"e":-101.66},{"s":11270,"e":-101.28},{"s":11300,"e":-101.42},{"s":11330,"e":-101.26},{"s":11360,"e":-101.36},{"s":11390,"e":-101.22},{"s":11420,"e":-101.34},{"s":11450,"e":-101.2},{"s":11480,"e":-101.32},{"s":11510,"e":-101.18},{"s":11540,"e":-101.3},{"s":11570,"e":-101.16},{"s":11600,"e":-101.28},{"s":11630,"e":-101.36},{"s":11660,"e":-101.26},{"s":11690,"e":-101.4},{"s":11720,"e":-101.24},{"s":11750,"e":-101.34},{"s":11780,"e":-101.2},{"s":11810,"e":-101.28},{"s":11840,"e":-101.14},{"s":11870,"e":-101.24},{"s":11900,"e":-101.08},{"s":11930,"e":-101.2},{"s":11960,"e":-101.12},{"s":11990,"e":-101.2}],
"o":[{"s":0,"e":-151.3},{"s":20,"e":-151.2},{"s":35,"e":-151.05},{"s":50,"e":-150.95},{"s":65,"e":-150.78},{"s":80,"e":-150.8},{"s":100,"e":-150.6},{"s":115,"e":-150.42},{"s":134,"e":-149.85},{"s":150,"e":-150.05},{"s":170,"e":-150.25},{"s":190,"e":-150.12},{"s":210,"e":-150.3},{"s":230,"e":-150.2},{"s":250,"e":-150.38},{"s":270,"e":-150.16},{"s":290,"e":-150.3},{"s":310,"e":-150.5},{"s":330,"e":-150.62},{"s":350,"e":-150.74},{"s":370,"e":-150.66},{"s":390,"e":-150.82},{"s":410,"e":-150.72},{"s":435,"e":-150.89},{"s":460,"e":-150.6},{"s":480,"e":-150.4},{"s":500,"e":-150.2},{"s":520,"e":-150.04},{"s":540,"e":-149.9},{"s":560,"e":-150.1},{"s":580,"e":-149.82},{"s":602,"e":-149.73},{"s":620,"e":-150.0},{"s":644,"e":-149.85},{"s":660,"e":-150.2},{"s":680,"e":-150.4},{"s":700,"e":-150.28},{"s":720,"e":-150.52},{"s":740,"e":-150.36},{"s":760,"e":-150.58},{"s":780,"e":-150.3},{"s":800,"e":-150.46},{"s":820,"e":-150.2},{"s":845,"e":-150.02},{"s":870,"e":-149.9},{"s":895,"e":-150.16},{"s":920,"e":-150.34},{"s":940,"e":-150.5},{"s":960,"e":-150.42},{"s":980,"e":-150.66},{"s":1000,"e":-150.74},{"s":1020,"e":-150.6},{"s":1040,"e":-150.8},{"s":1060,"e":-150.66},{"s":1080,"e":-150.84},{"s":1112,"e":-150.9},{"s":1130,"e":-150.7},{"s":1150,"e":-150.5},{"s":1170,"e":-150.3},{"s":1190,"e":-150.44},{"s":1210,"e":-150.2},{"s":1230,"e":-150.34},{"s":1250,"e":-150.08},{"s":1270,"e":-150.2},{"s":1288,"e":-149.91},{"s":1310,"e":-150.12},{"s":1330,"e":-150.36},{"s":1350,"e":-150.24},{"s":1370,"e":-150.5},{"s":1390,"e":-150.34},{"s":1410,"e":-150.6},{"s":1430,"e":-150.46},{"s":1450,"e":-150.68},{"s":1470,"e":-150.56},{"s":1490,"e":-150.74},{"s":1510,"e":-150.62},{"s":1530,"e":-150.82},{"s":1550,"e":-150.7},{"s":1570,"e":-150.86},{"s":1590,"e":-150.76},{"s":1620,"e":-150.92},{"s":1647,"e":-150.95},{"s":1670,"e":-150.7},{"s":1690,"e":-150.4},{"s":1710,"e":-150.1},{"s":1730,"e":-149.9},{"s":1755,"e":-149.8},{"s":1773,"e":-149.67},{"s":1790,"e":-149.72},{"s":1815,"e":-149.8},{"s":1830,"e":-150.0},{"s":1850,"e":-149.88},{"s":1870,"e":-150.14},{"s":1890,"e":-149.96},{"s":1910,"e":-150.24},{"s":1930,"e":-150.06},{"s":1950,"e":-150.32},{"s":1970,"e":-150.14},{"s":1990,"e":-150.4},{"s":2010,"e":-150.52},{"s":2030,"e":-150.36},{"s":2050,"e":-150.6},{"s":2070,"e":-150.7},{"s":2090,"e":-150.76},{"s":2110,"e":-150.6},{"s":2130,"e":-150.44},{"s":2150,"e":-150.3},{"s":2170,"e":-150.1},{"s":2190,"e":-150.2},{"s":2210,"e":-150.06},{"s":2232,"e":-149.95},{"s":2250,"e":-150.14},{"s":2270,"e":-150.3},{"s":2290,"e":-150.2},{"s":2310,"e":-150.44},{"s":2330,"e":-150.3},{"s":2350,"e":-150.54},{"s":2370,"e":-150.36},{"s":2390,"e":-150.48},{"s":2410,"e":-150.26},{"s":2430,"e":-150.42},{"s":2450,"e":-150.58},{"s":2470,"e":-150.46},{"s":2490,"e":-150.64},{"s":2510,"e":-150.52},{"s":2530,"e":-150.7},{"s":2550,"e":-150.62},{"s":2570,"e":-150.76},{"s":2600,"e":-150.6},{"s":2630,"e":-150.4},{"s":2650,"e":-150.2},{"s":2670,"e":-150.34},{"s":2690,"e":-150.16},{"s":2710,"e":-150.3},{"s":2730,"e":-150.1},{"s":2750,"e":-150.24},{"s":2770,"e":-150.42},{"s":2790,"e":-150.3},{"s":2810,"e":-150.52},{"s":2830,"e":-150.38},{"s":2850,"e":-150.56},{"s":2870,"e":-150.44},{"s":2890,"e":-150.62},{"s":2910,"e":-150.5},{"s":2930,"e":-150.66},{"s":2950,"e":-150.54},{"s":2970,"e":-150.72},{"s":3000,"e":-150.8},{"s":3020,"e":-150.66},{"s":3040,"e":-150.86},{"s":3060,"e":-150.74},{"s":3080,"e":-150.9},{"s":3100,"e":-150.7},{"s":3120,"e":-150.5},{"s":3140,"e":-150.28},{"s":3160,"e":-150.42},{"s":3180,"e":-150.14},{"s":3200,"e":-150.3},{"s":3220,"e":-150.04},{"s":3240,"e":-150.2},{"s":3260,"e":-150.38},{"s":3280,"e":-150.22},{"s":3300,"e":-150.46},{"s":3320,"e":-150.3},{"s":3340,"e":-150.08},{"s":3360,"e":-150.24},{"s":3380,"e":-150.0},{"s":3400,"e":-149.9},{"s":3420,"e":-149.86},{"s":3445,"e":-149.79},{"s":3465,"e":-150.0},{"s":3485,"e":-150.3},{"s":3505,"e":-150.5},{"s":3525,"e":-150.38},{"s":3545,"e":-150.6},{"s":3565,"e":-150.5},{"s":3585,"e":-150.76},{"s":3605,"e":-150.62},{"s":3625,"e":-150.82},{"s":3645,"e":-150.66},{"s":3665,"e":-150.54},{"s":3685,"e":-150.7},{"s":3705,"e":-150.5},{"s":3725,"e":-150.36},{"s":3745,"e":-150.2},{"s":3765,"e":-150.34},{"s":3785,"e":-150.12},{"s":3805,"e":-150.26},{"s":3825,"e":-150.08},{"s":3845,"e":-150.2},{"s":3865,"e":-150.0},{"s":3905,"e":-149.96},{"s":3925,"e":-150.2},{"s":3945,"e":-150.38},{"s":3965,"e":-150.28},{"s":3985,"e":-150.5},{"s":4005,"e":-150.66},{"s":4025,"e":-150.54},{"s":4045,"e":-150.72},{"s":4065,"e":-150.58},{"s":4085,"e":-150.42},{"s":4105,"e":-150.56},{"s":4125,"e":-150.34},{"s":4145,"e":-150.48},{"s":4165,"e":-150.26},{"s":4185,"e":-150.4},{"s":4205,"e":-150.16},{"s":4225,"e":-150.3},{"s":4245,"e":-150.08},{"s":4265,"e":-150.22},{"s":4285,"e":-149.98},{"s":4310,"e":-149.92},{"s":4340,"e":-149.85},{"s":4360,"e":-150.06},{"s":4380,"e":-150.3},{"s":4400,"e":-150.44},{"s":4420,"e":-150.32},{"s":4440,"e":-150.52},{"s":4460,"e":-150.38},{"s":4480,"e":-150.6},{"s":4500,"e":-150.46},{"s":4520,"e":-150.66},{"s":4540,"e":-150.52},{"s":4560,"e":-150.7},{"s":4580,"e":-150.56},{"s":4600,"e":-150.76},{"s":4620,"e":-150.6},{"s":4640,"e":-150.48},{"s":4660,"e":-150.64},{"s":4680,"e":-150.5},{"s":4700,"e":-150.72},{"s":4720,"e":-150.84},{"s":4740,"e":-150.66},{"s":4760,"e":-150.5},{"s":4780,"e":-150.36},{"s":4800,"e":-150.52},{"s":4820,"e":-150.32},{"s":4840,"e":-150.46},{"s":4860,"e":-150.24},{"s":4880,"e":-150.4},{"s":4900,"e":-150.6},{"s":4920,"e":-150.42},{"s":4940,"e":-150.62},{"s":4960,"e":-150.5},{"s":4980,"e":-150.68},{"s":5000,"e":-150.7},{"s":5020,"e":-150.54},{"s":5040,"e":-150.38},{"s":5060,"e":-150.5},{"s":5080,"e":-150.3},{"s":5100,"e":-150.44},{"s":5120,"e":-150.22},{"s":5140,"e":-150.36},{"s":5160,"e":-150.16},{"s":5180,"e":-150.3},{"s":5200,"e":-150.1},{"s":5220,"e":-150.24},{"s":5240,"e":-150.06},{"s":5260,"e":-150.2},{"s":5280,"e":-150.02},{"s":5300,"e":-149.96},{"s":5326,"e":-149.9},{"s":5350,"e":-150.1},{"s":5370,"e":-150.28},{"s":5390,"e":-150.16},{"s":5410,"e":-150.36},{"s":5430,"e":-150.24},{"s":5450,"e":-150.44},{"s":5470,"e":-150.3},{"s":5490,"e":-150.5},{"s":5510,"e":-150.34},{"s":5530,"e":-150.46},{"s":5550,"e":-150.28},{"s":5570,"e":-150.42},{"s":5590,"e":-150.22},{"s":5610,"e":-150.36},{"s":5630,"e":-150.18},{"s":5650,"e":-150.3},{"s":5670,"e":-150.12},{"s":5690,"e":-150.24},{"s":5710,"e":-150.06},{"s":5744,"e":-150.02},{"s":5770,"e":-150.2},{"s":5790,"e":-150.36},{"s":5810,"e":-150.5},{"s":5830,"e":-150.4},{"s":5850,"e":-150.6},{"s":5870,"e":-150.48},{"s":5890,"e":-150.66},{"s":5910,"e":-150.52},{"s":5930,"e":-150.7},{"s":5950,"e":-150.58},{"s":5970,"e":-150.74},{"s":6000,"e":-150.6},{"s":6020,"e":-150.76},{"s":6040,"e":-150.62},{"s":6060,"e":-150.76},{"s":6080,"e":-150.56},{"s":6100,"e":-150.4},{"s":6120,"e":-150.24},{"s":6140,"e":-150.36},{"s":6160,"e":-150.18},{"s":6180,"e":-150.32},{"s":6200,"e":-150.14},{"s":6220,"e":-150.3},{"s":6240,"e":-150.46},{"s":6260,"e":-150.3},{"s":6280,"e":-150.5},{"s":6300,"e":-150.36},{"s":6320,"e":-150.56},{"s":6340,"e":-150.4},{"s":6360,"e":-150.22},{"s":6380,"e":-150.38},{"s":6400,"e":-150.18},{"s":6420,"e":-150.32},{"s":6440,"e":-150.14},{"s":6460,"e":-150.28},{"s":6480,"e":-150.44},{"s":6500,"e":-150.3},{"s":6520,"e":-150.48},{"s":6540,"e":-150.34},{"s":6560,"e":-150.52},{"s":6580,"e":-150.38},{"s":6600,"e":-150.58},{"s":6620,"e":-150.42},{"s":6640,"e":-150.26},{"s":6660,"e":-150.4},{"s":6680,"e":-150.2},{"s":6700,"e":-150.34},{"s":6720,"e":-150.14},{"s":6740,"e":-150.28},{"s":6760,"e":-150.08},{"s":6780,"e":-150.22},{"s":6800,"e":-150.04},{"s":6830,"e":-149.96},{"s":6860,"e":-149.88},{"s":6880,"e":-150.0},{"s":6900,"e":-149.9},{"s":6920,"e":-150.1},{"s":6940,"e":-149.94},{"s":6960,"e":-150.16},{"s":6980,"e":-150.3},{"s":7000,"e":-150.14},{"s":7020,"e":-150.3},{"s":7040,"e":-150.46},{"s":7060,"e":-150.36},{"s":7080,"e":-150.52},{"s":7100,"e":-150.4},{"s":7120,"e":-150.56},{"s":7140,"e":-150.42},{"s":7160,"e":-150.3},{"s":7180,"e":-150.46},{"s":7200,"e":-150.28},{"s":7220,"e":-150.42},{"s":7240,"e":-150.24},{"s":7260,"e":-150.38},{"s":7280,"e":-150.52},{"s":7300,"e":-150.4},{"s":7320,"e":-150.6},{"s":7340,"e":-150.46},{"s":7360,"e":-150.64},{"s":7380,"e":-150.5},{"s":7400,"e":-150.68},{"s":7420,"e":-150.54},{"s":7440,"e":-150.72},{"s":7460,"e":-150.58},{"s":7480,"e":-150.76},{"s":7500,"e":-150.62},{"s":7520,"e":-150.78},{"s":7540,"e":-150.64},{"s":7560,"e":-150.8},{"s":7584,"e":-150.85},{"s":7610,"e":-150.66},{"s":7630,"e":-150.5},{"s":7650,"e":-150.38},{"s":7670,"e":-150.5},{"s":7690,"e":-150.32},{"s":7710,"e":-150.46},{"s":7730,"e":-150.26},{"s":7750,"e":-150.4},{"s":7770,"e":-150.22},{"s":7790,"e":-150.36},{"s":7810,"e":-150.18},{"s":7830,"e":-150.3},{"s":7850,"e":-150.14},{"s":7870,"e":-150.26},{"s":7890,"e":-150.08},{"s":7918,"e":-150.02},{"s":7940,"e":-150.2},{"s":7960,"e":-150.36},{"s":7980,"e":-150.5},{"s":8000,"e":-150.42},{"s":8020,"e":-150.56},{"s":8040,"e":-150.44},{"s":8060,"e":-150.6},{"s":8080,"e":-150.48},{"s":8100,"e":-150.36},{"s":8120,"e":-150.5},{"s":8140,"e":-150.3},{"s":8160,"e":-150.44},{"s":8180,"e":-150.26},{"s":8200,"e":-150.4},{"s":8220,"e":-150.54},{"s":8240,"e":-150.42},{"s":8260,"e":-150.58},{"s":8280,"e":-150.46},{"s":8300,"e":-150.62},{"s":8320,"e":-150.5},{"s":8340,"e":-150.66},{"s":8360,"e":-150.54},{"s":8380,"e":-150.7},{"s":8400,"e":-150.58},{"s":8420,"e":-150.46},{"s":8440,"e":-150.6},{"s":8460,"e":-150.44},{"s":8480,"e":-150.58},{"s":8500,"e":-150.7},{"s":8520,"e":-150.56},{"s":8540,"e":-150.72},{"s":8560,"e":-150.6},{"s":8587,"e":-150.76},{"s":8610,"e":-150.6},{"s":8630,"e":-150.44},{"s":8650,"e":-150.56},{"s":8670,"e":-150.38},{"s":8690,"e":-150.5},{"s":8710,"e":-150.3},{"s":8730,"e":-150.44},{"s":8750,"e":-150.24},{"s":8770,"e":-150.36},{"s":8790,"e":-150.18},{"s":8810,"e":-150.3},{"s":8830,"e":-150.12},{"s":8850,"e":-150.26},{"s":8870,"e":-150.06},{"s":8890,"e":-150.0},{"s":8922,"e":-149.92},{"s":8950,"e":-150.04},{"s":8975,"e":-149.96},{"s":9000,"e":-150.3},{"s":9015,"e":-150.6},{"s":9030,"e":-150.84},{"s":9050,"e":-150.6},{"s":9070,"e":-150.4},{"s":9090,"e":-150.2},{"s":9110,"e":-150.34},{"s":9130,"e":-150.12},{"s":9150,"e":-150.28},{"s":9170,"e":-150.1},{"s":9190,"e":-150.26},{"s":9210,"e":-150.42},{"s":9230,"e":-150.3},{"s":9250,"e":-150.48},{"s":9270,"e":-150.36},{"s":9290,"e":-150.54},{"s":9310,"e":-150.4},{"s":9330,"e":-150.6},{"s":9350,"e":-150.46},{"s":9370,"e":-150.34},{"s":9390,"e":-150.48},{"s":9410,"e":-150.28},{"s":9430,"e":-150.42},{"s":9450,"e":-150.2},{"s":9470,"e":-150.34},{"s":9490,"e":-150.14},{"s":9510,"e":-150.28},{"s":9530,"e":-150.08},{"s":9560,"e":-149.98},{"s":9590,"e":-149.93},{"s":9610,"e":-150.1},{"s":9630,"e":-150.3},{"s":9650,"e":-150.46},{"s":9670,"e":-150.36},{"s":9690,"e":-150.56},{"s":9710,"e":-150.66},{"s":9730,"e":-150.76},{"s":9757,"e":-150.84},{"s":9780,"e":-150.6},{"s":9800,"e":-150.44},{"s":9820,"e":-150.56},{"s":9840,"e":-150.4},{"s":9860,"e":-150.52},{"s":9880,"e":-150.34},{"s":9900,"e":-150.46},{"s":9920,"e":-150.28},{"s":9940,"e":-150.42},{"s":9960,"e":-150.58},{"s":9980,"e":-150.46},{"s":10000,"e":-150.56},{"s":10020,"e":-150.7},{"s":10040,"e":-150.58},{"s":10060,"e":-150.44},{"s":10080,"e":-150.56},{"s":10100,"e":-150.38},{"s":10120,"e":-150.5},{"s":10140,"e":-150.32},{"s":10160,"e":-150.44},{"s":10180,"e":-150.26},{"s":10200,"e":-150.38},{"s":10220,"e":-150.2},{"s":10240,"e":-150.32},{"s":10260,"e":-150.14},{"s":10280,"e":-150.26},{"s":10300,"e":-150.42},{"s":10320,"e":-150.3},{"s":10340,"e":-150.5},{"s":10360,"e":-150.38},{"s":10380,"e":-150.56},{"s":10400,"e":-150.44},{"s":10420,"e":-150.62},{"s":10440,"e":-150.48},{"s":10460,"e":-150.66},{"s":10480,"e":-150.52},{"s":10500,"e":-150.36},{"s":10520,"e":-150.5},{"s":10540,"e":-150.3},{"s":10560,"e":-150.44},{"s":10580,"e":-150.24},{"s":10600,"e":-150.36},{"s":10620,"e":-150.18},{"s":10640,"e":-150.3},{"s":10660,"e":-150.12},{"s":10680,"e":-150.26},{"s":10700,"e":-150.08},{"s":10720,"e":-150.2},{"s":10740,"e":-150.04},{"s":10770,"e":-150.0},{"s":10803,"e":-149.93},{"s":10830,"e":-150.14},{"s":10850,"e":-150.34},{"s":10870,"e":-150.5},{"s":10890,"e":-150.42},{"s":10910,"e":-150.6},{"s":10930,"e":-150.48},{"s":10950,"e":-150.66},{"s":10970,"e":-150.74},{"s":10990,"e":-150.6},{"s":11010,"e":-150.76},{"s":11030,"e":-150.56},{"s":11050,"e":-150.4},{"s":11070,"e":-150.28},{"s":11090,"e":-150.4},{"s":11110,"e":-150.22},{"s":11130,"e":-150.34},{"s":11150,"e":-150.16},{"s":11170,"e":-150.28},{"s":11190,"e":-150.1},{"s":11210,"e":-150.22},{"s":11230,"e":-150.04},{"s":11263,"e":-149.94},{"s":11290,"e":-150.1},{"s":11310,"e":-150.26},{"s":11330,"e":-150.14},{"s":11350,"e":-150.3},{"s":11370,"e":-150.18},{"s":11390,"e":-150.34},{"s":11410,"e":-150.2},{"s":11430,"e":-150.36},{"s":11450,"e":-150.24},{"s":11470,"e":-150.4},{"s":11490,"e":-150.28},{"s":11510,"e":-150.44},{"s":11530,"e":-150.3},{"s":11550,"e":-150.46},{"s":11570,"e":-150.34},{"s":11590,"e":-150.5},{"s":11610,"e":-150.36},{"s":11630,"e":-150.54},{"s":11650,"e":-150.4},{"s":11670,"e":-150.56},{"s":11690,"e":-150.42},{"s":11710,"e":-150.34},{"s":11730,"e":-150.48},{"s":11750,"e":-150.32},{"s":11770,"e":-150.46},{"s":11790,"e":-150.3},{"s":11810,"e":-150.44},{"s":11830,"e":-150.36},{"s":11850,"e":-150.52},{"s":11870,"e":-150.4},{"s":11890,"e":-150.54},{"s":11910,"e":-150.42},{"s":11930,"e":-150.56},{"s":11950,"e":-150.44},{"s":11970,"e":-150.52},{"s":11990,"e":-150.46}],
"pts":[
{"m":"b","t":"ab initio","s":0,"e":-84.97},{"m":"b","t":"ab initio","s":102,"e":-84.725},{"m":"b","t":"ab initio","s":268,"e":-84.795},{"m":"b","t":"ab initio","s":291,"e":-84.64},{"m":"b","t":"ab initio","s":577,"e":-84.97},{"m":"b","t":"ab initio","s":1437,"e":-84.66},{"m":"b","t":"ab initio","s":1856,"e":-84.905},{"m":"b","t":"ab initio","s":2871,"e":-84.49},{"m":"b","t":"ab initio","s":8435,"e":-84.598},
{"m":"b","t":"test","s":2852,"e":-84.707},{"m":"b","t":"test","s":3870,"e":-84.83},{"m":"b","t":"test","s":4870,"e":-84.78},{"m":"b","t":"test","s":5873,"e":-84.815},{"m":"b","t":"test","s":6870,"e":-84.95},{"m":"b","t":"test","s":7872,"e":-84.55},{"m":"b","t":"test","s":9437,"e":-84.745},{"m":"b","t":"test","s":10448,"e":-84.89},{"m":"b","t":"test","s":11455,"e":-84.575},
{"m":"p","t":"ab initio","s":33,"e":-68.43},{"m":"p","t":"ab initio","s":67,"e":-68.415},{"m":"p","t":"ab initio","s":92,"e":-68.21},{"m":"p","t":"ab initio","s":343,"e":-68.34},{"m":"p","t":"ab initio","s":702,"e":-68.11},{"m":"p","t":"ab initio","s":727,"e":-67.92},{"m":"p","t":"ab initio","s":755,"e":-67.82},{"m":"p","t":"ab initio","s":895,"e":-68.48},{"m":"p","t":"ab initio","s":2617,"e":-68.385},{"m":"p","t":"ab initio","s":2960,"e":-68.53},{"m":"p","t":"ab initio","s":3445,"e":-68.655},{"m":"p","t":"ab initio","s":7324,"e":-68.48},{"m":"p","t":"ab initio","s":8487,"e":-68.305},
{"m":"p","t":"test","s":1900,"e":-68.39},{"m":"p","t":"test","s":4443,"e":-68.29},{"m":"p","t":"test","s":5452,"e":-68.642},{"m":"p","t":"test","s":6438,"e":-68.35},{"m":"p","t":"test","s":8325,"e":-68.422},{"m":"p","t":"test","s":9477,"e":-68.5},{"m":"p","t":"test","s":10486,"e":-68.39},{"m":"p","t":"test","s":11481,"e":-68.3},
{"m":"a","t":"ab initio","s":8,"e":-101.58},{"m":"a","t":"ab initio","s":1916,"e":-101.05},{"m":"a","t":"ab initio","s":3920,"e":-100.767},{"m":"a","t":"ab initio","s":7012,"e":-100.983},{"m":"a","t":"ab initio","s":9848,"e":-101.195},
{"m":"a","t":"test","s":1015,"e":-101.32},{"m":"a","t":"test","s":2919,"e":-101.11},{"m":"a","t":"test","s":3915,"e":-100.995},{"m":"a","t":"test","s":4926,"e":-101.46},{"m":"a","t":"test","s":5933,"e":-101.3},{"m":"a","t":"test","s":6935,"e":-101.055},{"m":"a","t":"test","s":8005,"e":-101.255},{"m":"a","t":"test","s":9022,"e":-101.13},{"m":"a","t":"test","s":10855,"e":-101.44},{"m":"a","t":"test","s":11862,"e":-101.245},
{"m":"o","t":"test","s":1000,"e":-150.733},{"m":"o","t":"test","s":2000,"e":-150.395},{"m":"o","t":"test","s":3000,"e":-150.773},{"m":"o","t":"test","s":4000,"e":-150.725},{"m":"o","t":"test","s":5000,"e":-150.695},{"m":"o","t":"test","s":6000,"e":-150.595},{"m":"o","t":"test","s":7000,"e":-150.105},{"m":"o","t":"test","s":8000,"e":-150.515},{"m":"o","t":"test","s":9000,"e":-150.723},{"m":"o","t":"test","s":10000,"e":-150.548},{"m":"o","t":"test","s":11000,"e":-150.77}
]
},
"columns":2,
"spacing":{"row":106,"column":144},
"bounds":"flush",
"center":true,
"resolve":{"scale":{"x":"independent","y":"independent","color":"independent"},"legend":{"color":"independent"},"axis":{"x":"independent","y":"independent"}},
"concat":[
{"title":"Butylamine","width":655,"height":325,
"layer":[
{"data":{"name":"b"},"mark":{"type":"line","strokeWidth":1.6,"clip":true},
"encoding":{"x":{"field":"s","type":"quantitative","scale":{"domain":[-600,12600],"nice":false,"zero":false},"axis":{"values":[0,2000,4000,6000,8000,10000,12000],"format":"d","title":"Step"}},
"y":{"field":"e","type":"quantitative","scale":{"domain":[-85.592,-84.072],"nice":false,"zero":false},"axis":{"values":[-85.4,-85.2,-85.0,-84.8,-84.6,-84.4,-84.2],"format":".1f","title":"Energy (eV)"}},
"color":{"datum":"ML","type":"nominal","scale":{"domain":["ML","ab initio","test"],"range":["#8b99a6","#f52c57","#0000ff"]},
"legend":{"orient":"top-right","encode":{"symbols":{"update":{"shape":{"signal":"datum.value === 'ML' ? 'stroke' : 'circle'"},"size":{"signal":"datum.value === 'ML' ? 1444 : 64"},"fill":{"signal":"datum.value === 'ML' ? 'transparent' : (datum.value === 'test' ? '#0000ff' : '#f52c57')"},"stroke":{"signal":"datum.value === 'ML' ? '#8b99a6' : 'transparent'"},"strokeWidth":{"value":2},"opacity":{"value":1},"fillOpacity":{"value":1},"strokeOpacity":{"value":1}}}}}}}},
{"data":{"name":"pts"},"transform":[{"filter":"datum.m == 'b'"}],"mark":{"type":"point","shape":"circle","filled":true,"size":64,"opacity":1,"strokeWidth":0},
"encoding":{"x":{"field":"s","type":"quantitative"},"y":{"field":"e","type":"quantitative"},"color":{"field":"t","type":"nominal"}}}
]},
{"title":"Propylamine","width":655,"height":325,
"layer":[
{"data":{"name":"p"},"mark":{"type":"line","strokeWidth":1.6,"clip":true},
"encoding":{"x":{"field":"s","type":"quantitative","scale":{"domain":[-600,12600],"nice":false,"zero":false},"axis":{"values":[0,2000,4000,6000,8000,10000,12000],"format":"d","title":"Step"}},
"y":{"field":"e","type":"quantitative","scale":{"domain":[-68.82,-67.753],"nice":false,"zero":false},"axis":{"values":[-68.8,-68.6,-68.4,-68.2,-68.0,-67.8],"format":".1f","title":null}},
"color":{"datum":"ML","type":"nominal","scale":{"domain":["ML","ab initio","test"],"range":["#8b99a6","#f52c57","#0000ff"]},
"legend":{"orient":"top-right","encode":{"symbols":{"update":{"shape":{"signal":"datum.value === 'ML' ? 'stroke' : 'circle'"},"size":{"signal":"datum.value === 'ML' ? 1444 : 64"},"fill":{"signal":"datum.value === 'ML' ? 'transparent' : (datum.value === 'test' ? '#0000ff' : '#f52c57')"},"stroke":{"signal":"datum.value === 'ML' ? '#8b99a6' : 'transparent'"},"strokeWidth":{"value":2},"opacity":{"value":1},"fillOpacity":{"value":1},"strokeOpacity":{"value":1}}}}}}}},
{"data":{"name":"pts"},"transform":[{"filter":"datum.m == 'p'"}],"mark":{"type":"point","shape":"circle","filled":true,"size":64,"opacity":1,"strokeWidth":0},
"encoding":{"x":{"field":"s","type":"quantitative"},"y":{"field":"e","type":"quantitative"},"color":{"field":"t","type":"nominal"}}}
]},
{"title":"Amylamine","width":655,"height":325,
"layer":[
{"data":{"name":"a"},"mark":{"type":"line","strokeWidth":1.6,"clip":true},
"encoding":{"x":{"field":"s","type":"quantitative","scale":{"domain":[-600,12600],"nice":false,"zero":false},"axis":{"values":[0,2000,4000,6000,8000,10000,12000],"format":"d","title":"Step"}},
"y":{"field":"e","type":"quantitative","scale":{"domain":[-102.295,-100.614],"nice":false,"zero":false},"axis":{"values":[-102.2,-102.0,-101.8,-101.6,-101.4,-101.2,-101.0,-100.8],"format":".1f","title":"Energy (eV)"}},
"color":{"datum":"ML","type":"nominal","scale":{"domain":["ML","ab initio","test"],"range":["#8b99a6","#f52c57","#0000ff"]},
"legend":{"orient":"bottom-right","encode":{"symbols":{"update":{"shape":{"signal":"datum.value === 'ML' ? 'stroke' : 'circle'"},"size":{"signal":"datum.value === 'ML' ? 1444 : 64"},"fill":{"signal":"datum.value === 'ML' ? 'transparent' : (datum.value === 'test' ? '#0000ff' : '#f52c57')"},"stroke":{"signal":"datum.value === 'ML' ? '#8b99a6' : 'transparent'"},"strokeWidth":{"value":2},"opacity":{"value":1},"fillOpacity":{"value":1},"strokeOpacity":{"value":1}}}}}}}},
{"data":{"name":"pts"},"transform":[{"filter":"datum.m == 'a'"}],"mark":{"type":"point","shape":"circle","filled":true,"size":64,"opacity":1,"strokeWidth":0},
"encoding":{"x":{"field":"s","type":"quantitative"},"y":{"field":"e","type":"quantitative"},"color":{"field":"t","type":"nominal"}}}
]},
{"title":{"text":"Octylamine","offset":-3},"width":655,"height":321,
"layer":[
{"data":{"name":"o"},"mark":{"type":"line","strokeWidth":1.6,"clip":true},
"encoding":{"x":{"field":"s","type":"quantitative","scale":{"domain":[-600,12600],"nice":false,"zero":false},"axis":{"values":[0,2000,4000,6000,8000,10000,12000],"format":"d","title":"Step"}},
"y":{"field":"e","type":"quantitative","scale":{"domain":[-151.37,-149.597],"nice":false,"zero":false},"axis":{"values":[-151.2,-151.0,-150.8,-150.6,-150.4,-150.2,-150.0,-149.8,-149.6],"format":".1f","title":"Energy (eV)"}},
"color":{"datum":"ML","type":"nominal","scale":{"domain":["ML","test"],"range":["#8b99a6","#0000ff"]},
"legend":{"orient":"top-right","offset":10,"encode":{"symbols":{"update":{"shape":{"signal":"datum.value === 'ML' ? 'stroke' : 'circle'"},"size":{"signal":"datum.value === 'ML' ? 1444 : 64"},"fill":{"signal":"datum.value === 'ML' ? 'transparent' : '#0000ff'"},"stroke":{"signal":"datum.value === 'ML' ? '#8b99a6' : 'transparent'"},"strokeWidth":{"value":2},"opacity":{"value":1},"fillOpacity":{"value":1},"strokeOpacity":{"value":1}}}}}}}},
{"data":{"name":"pts"},"transform":[{"filter":"datum.m == 'o'"}],"mark":{"type":"point","shape":"circle","filled":true,"size":64,"opacity":1,"strokeWidth":0},
"encoding":{"x":{"field":"s","type":"quantitative"},"y":{"field":"e","type":"quantitative"},"color":{"field":"t","type":"nominal"}}}
]}
]
}
